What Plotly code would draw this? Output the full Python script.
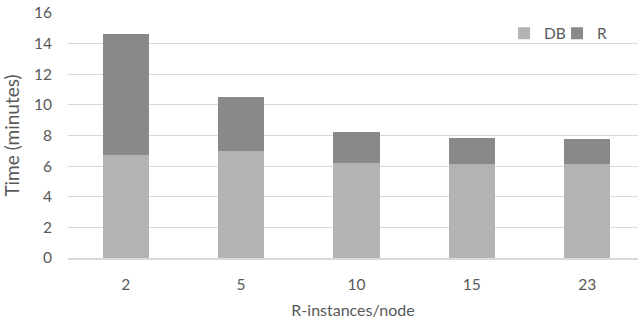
import plotly.graph_objects as go

categories = ["2", "5", "10", "15", "23"]
db_values = [6.7, 7.0, 6.22, 6.15, 6.15]
r_values = [7.94, 3.52, 1.98, 1.70, 1.62]
y_ticks = [0, 2, 4, 6, 8, 10, 12, 14, 16]

FONT = "Lato, Open Sans, sans-serif"
TXT = "#595959"

fig = go.Figure()
fig.add_trace(go.Bar(x=categories, y=db_values, name="DB", marker=dict(color="#b3b3b3", line=dict(width=0)), width=0.4))
fig.add_trace(go.Bar(x=categories, y=r_values, name="R", marker=dict(color="#898989", line=dict(width=0)), width=0.4))

fig.update_layout(
    barmode="stack",
    width=640, height=322,
    margin=dict(l=68, r=2, t=13, b=64, autoexpand=False),
    paper_bgcolor="white", plot_bgcolor="white",
    font=dict(family=FONT, color=TXT, size=15),
    showlegend=True,
    legend=dict(orientation="h", traceorder="normal", x=0.765, y=0.985, xanchor="left", yanchor="top",
                bgcolor="rgba(0,0,0,0)", font=dict(size=15.5, color=TXT),
                entrywidth=8, entrywidthmode="pixels", itemwidth=30, tracegroupgap=0),
    xaxis=dict(type="category", range=[-0.5, 4.44], showgrid=False, automargin=False,
               showline=True, linecolor="#d9d9d9", linewidth=1.5, ticks="", ticklabelstandoff=12,
               tickfont=dict(size=15.5, color=TXT),
               title=dict(text="R-instances/node", font=dict(size=16, color=TXT), standoff=12)),
    yaxis=dict(range=[0, 16], tickvals=y_ticks, showgrid=True, gridcolor="#d9d9d9", gridwidth=1,
               zeroline=False, showline=False, ticks="", ticklabelstandoff=15, automargin=False,
               tickfont=dict(size=15.5, color=TXT),
               title=dict(text="Time (minutes)", font=dict(size=19, color=TXT), standoff=12)),
)

fig.write_html("out.html", config={"displayModeBar": False},
               post_script="document.body.style.margin='0px';")
